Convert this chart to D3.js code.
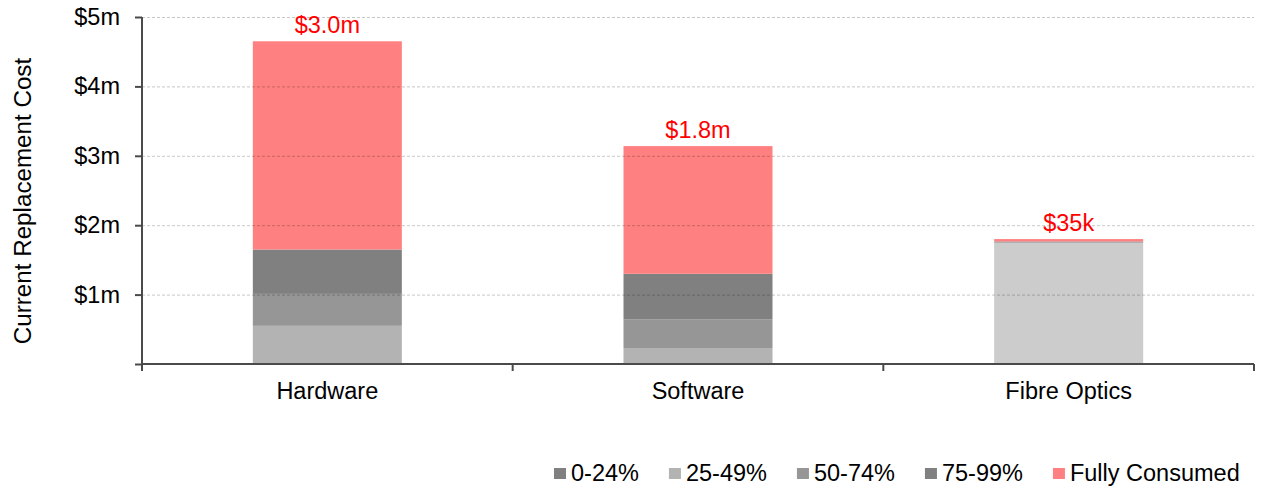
<!DOCTYPE html>
<html>
<head>
<meta charset="utf-8">
<script src="https://cdn.jsdelivr.net/npm/d3@7"></script>
<style>
  html, body { margin: 0; padding: 0; background: #fff; }
  svg { display: block; font-family: "Liberation Sans", Arial, sans-serif; }
</style>
</head>
<body>
<svg id="chart" width="1261" height="489"></svg>
<script>
// Asset classes along the x axis
const categories = ["Hardware", "Software", "Fibre Optics"];

// Remaining-life bands, stacked bottom to top ($ millions)
const seriesNames = ["0-24%", "25-49%", "50-74%", "75-99%", "Fully Consumed"];
const band0to24   = [0, 0, 1.75];
const band25to49  = [0.55, 0.23, 0];
const band50to74  = [0.46, 0.41, 0];
const band75to99  = [0.64, 0.66, 0.015];
const fullyConsumed = [3.0, 1.84, 0.035];

// Y axis ticks ($ millions) and their labels
const yTicks = [0, 1, 2, 3, 4, 5];
const yTickLabels = ["", "$1m", "$2m", "$3m", "$4m", "$5m"];

const seriesValues = [band0to24, band25to49, band50to74, band75to99, fullyConsumed];
const barColors    = ["#cccccc", "#b3b3b3", "#969696", "#808080", "#ff8080"];
const legendColors = ["#808080", "#b3b3b3", "#969696", "#808080", "#ff8080"];

const FONT = 23.5;

const rows = categories.map((c, i) => {
  const r = { category: c };
  seriesNames.forEach((s, k) => { r[s] = seriesValues[k][i]; });
  return r;
});

const svg = d3.select("#chart");
const plotLeft = 142, plotRight = 1254, plotTop = 17, plotBottom = 364;

const x = d3.scaleBand().domain(categories).range([plotLeft, plotRight]).paddingInner(0).paddingOuter(0);
const y = d3.scaleLinear().domain([0, 5]).range([plotBottom, plotTop]);
const barW = x.bandwidth() * 0.402;

const stacked = d3.stack().keys(seriesNames)(rows);

// Bars
const g = svg.append("g");
stacked.forEach((layer, k) => {
  g.selectAll(null)
    .data(layer)
    .join("rect")
    .attr("x", d => x(d.data.category) + (x.bandwidth() - barW) / 2)
    .attr("width", barW)
    .attr("y", d => y(d[1]))
    .attr("height", d => Math.max(0, y(d[0]) - y(d[1])))
    .attr("fill", barColors[k]);
});

// Gridlines (drawn over the bars, semi-transparent)
svg.append("g")
  .selectAll("line")
  .data(yTicks.filter(t => t > 0))
  .join("line")
  .attr("x1", plotLeft).attr("x2", plotRight)
  .attr("y1", d => y(d) + 0.5).attr("y2", d => y(d) + 0.5)
  .attr("stroke", "rgba(0,0,0,0.22)")
  .attr("stroke-width", 1)
  .attr("stroke-dasharray", "3,2");

// Y axis
const yAxis = d3.axisLeft(y)
  .tickValues(yTicks)
  .tickFormat((d, i) => yTickLabels[i])
  .tickSize(7)
  .tickPadding(15);
const yg = svg.append("g").attr("transform", `translate(${plotLeft},0)`).call(yAxis);
yg.select(".domain").attr("stroke", "#4a4a4a").attr("stroke-width", 2).attr("d", `M0,${plotTop}V${plotBottom + 7}`);
yg.selectAll(".tick line").attr("stroke", "#4a4a4a").attr("stroke-width", 2);
yg.selectAll(".tick text").attr("font-size", FONT).attr("fill", "#000")
  .attr("font-family", "Liberation Sans, Arial, sans-serif");

// X axis line and category boundary ticks
const xg = svg.append("g");
xg.append("line")
  .attr("x1", plotLeft).attr("x2", plotRight)
  .attr("y1", plotBottom).attr("y2", plotBottom)
  .attr("stroke", "#4a4a4a").attr("stroke-width", 2);
const bounds = categories.map(c => x(c)).concat([x.range()[1]]);
xg.selectAll(".bt")
  .data(bounds.slice(1))
  .join("line")
  .attr("x1", d => d).attr("x2", d => d)
  .attr("y1", plotBottom).attr("y2", plotBottom + 7)
  .attr("stroke", "#4a4a4a").attr("stroke-width", 2);
xg.selectAll("text")
  .data(categories)
  .join("text")
  .attr("x", d => x(d) + x.bandwidth() / 2)
  .attr("y", 399)
  .attr("text-anchor", "middle")
  .attr("font-size", FONT)
  .attr("fill", "#000")
  .text(d => d);

// Fully-consumed value labels above each bar
const fmt = v => v >= 1 ? "$" + v.toFixed(1) + "m" : "$" + Math.round(v * 1000) + "k";
const lastLayer = stacked[stacked.length - 1];
svg.append("g")
  .selectAll("text")
  .data(lastLayer)
  .join("text")
  .attr("x", d => x(d.data.category) + x.bandwidth() / 2)
  .attr("y", d => y(d[1]) - 8)
  .attr("text-anchor", "middle")
  .attr("font-size", FONT)
  .attr("fill", "#ff0000")
  .text(d => fmt(d.data["Fully Consumed"]));

// Y axis title
svg.append("text")
  .attr("transform", "translate(23,201) rotate(-90)")
  .attr("text-anchor", "middle")
  .attr("dy", "0.35em")
  .attr("font-size", 24.2)
  .attr("fill", "#000")
  .text("Current Replacement Cost");

// Legend
const lg = svg.append("g");
let lx = 554;
seriesNames.forEach((s, k) => {
  lg.append("rect").attr("x", lx).attr("y", 468).attr("width", 12).attr("height", 11)
    .attr("fill", legendColors[k]);
  const t = lg.append("text").attr("x", lx + 17).attr("y", 481)
    .attr("font-size", FONT).attr("fill", "#000").text(s);
  lx += 17 + t.node().getComputedTextLength() + 30;
});
</script>
</body>
</html>
